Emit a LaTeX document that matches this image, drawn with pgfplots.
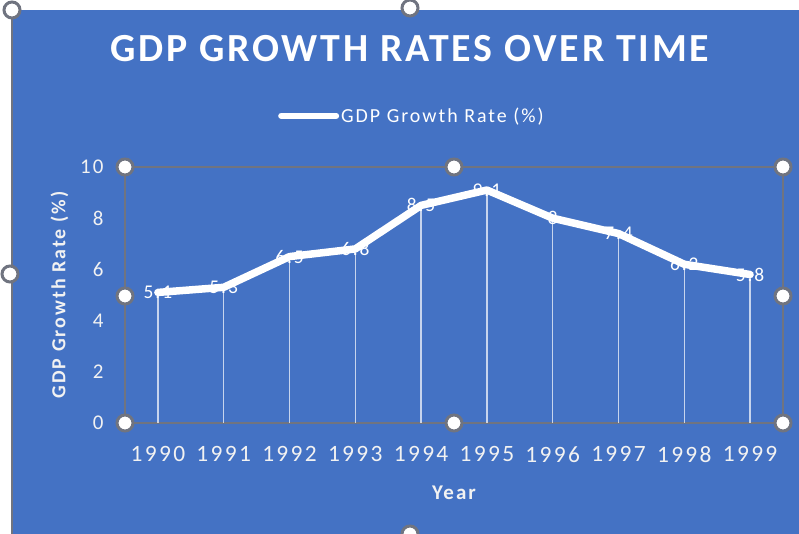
\documentclass[border=0pt]{standalone}
\usepackage{pgfplots}
\pgfplotsset{compat=1.18}
\usepackage{fontspec}
\setmainfont{Carlito}
\newfontfamily\titlefont[LetterSpace=7]{Carlito}
\newfontfamily\tickfont[LetterSpace=10]{Carlito}
\newfontfamily\legfont[LetterSpace=10]{Carlito}
\definecolor{bgblue}{HTML}{4472C4}
\definecolor{framegray}{RGB}{112,116,128}
\definecolor{tickwhite}{HTML}{F2F2F2}
\begin{document}
\begin{tikzpicture}[x=1bp,y=1bp]
\useasboundingbox (0,0) rectangle (799,534);
\fill[white] (0,0) rectangle (799,534);
\fill[bgblue] (11,0) rectangle (799,524);
\draw[framegray, line width=1.5bp] (12,0) -- (12,524);
% title
\node[white, font=\titlefont\fontsize{40}{44}\selectfont\bfseries] at (410,485) {GDP GROWTH RATES OVER TIME};
\begin{axis}[
  at={(125bp,111bp)}, anchor=south west,
  scale only axis, width=658bp, height=256bp,
  xmin=-0.5, xmax=9.5, ymin=0, ymax=10,
  xtick={0,...,9},
  xticklabels={1990,1991,1992,1993,1994,1995,1996,1997,1998,1999},
  ytick={0,2,4,6,8,10},
  major tick length=0pt,
  axis line style={framegray, line width=1.8bp},
  /pgf/number format/assume math mode=true,
  xticklabel style={font=\tickfont\fontsize{23.5}{26}\selectfont, text=tickwhite, yshift=-20bp},
  yticklabel style={font=\tickfont\fontsize{21}{24}\selectfont, text=tickwhite, xshift=-18bp},
  xlabel={Year},
  ylabel={GDP Growth Rate (\%)},
  xlabel style={font=\legfont\fontsize{21}{23}\selectfont\bfseries, text=tickwhite, yshift=-16bp},
  ylabel style={font=\legfont\fontsize{20}{22}\selectfont\bfseries, text=tickwhite, yshift=5bp},
  legend style={at={(0.436,1.2)}, anchor=center, draw=none, fill=none,
    font=\legfont\fontsize{20}{22}\selectfont, text=white, inner sep=0pt},
  legend image code/.code={\draw[white, line width=6bp, line cap=round] (0bp,0bp) -- (55bp,0bp);},
  clip=false,
]
\addplot[ycomb, white, opacity=0.7, line width=1.3bp, mark=none, forget plot] table[x=x, y=y] {
x y
0 5.1
1 5.3
2 6.5
3 6.8
4 8.5
5 9.1
6 8
7 7.4
8 6.2
9 5.8
};
\addplot[white, line width=7.5bp, line join=round, line cap=round, mark=none,
  nodes near coords, point meta=explicit symbolic,
  every node near coord/.append style={anchor=center, white, font=\legfont\fontsize{19.5}{20}\selectfont}]
  table[x=x, y=y, meta=lab] {
x y lab
0 5.1 5.1
1 5.3 5.3
2 6.5 6.5
3 6.8 6.8
4 8.5 8.5
5 9.1 9.1
6 8 8
7 7.4 7.4
8 6.2 6.2
9 5.8 5.8
};
\addlegendentry{GDP Growth Rate (\%)}
\end{axis}
% selection handles
\foreach \p in {(125,367),(454,367),(783,367),(125,238),(783,238),(125,111),(454,111),(783,111),(12,524),(410,526),(10,260),(410,0)}
  \filldraw[fill=white, draw=framegray, line width=3bp] \p circle (8bp);
\end{tikzpicture}
\end{document}
